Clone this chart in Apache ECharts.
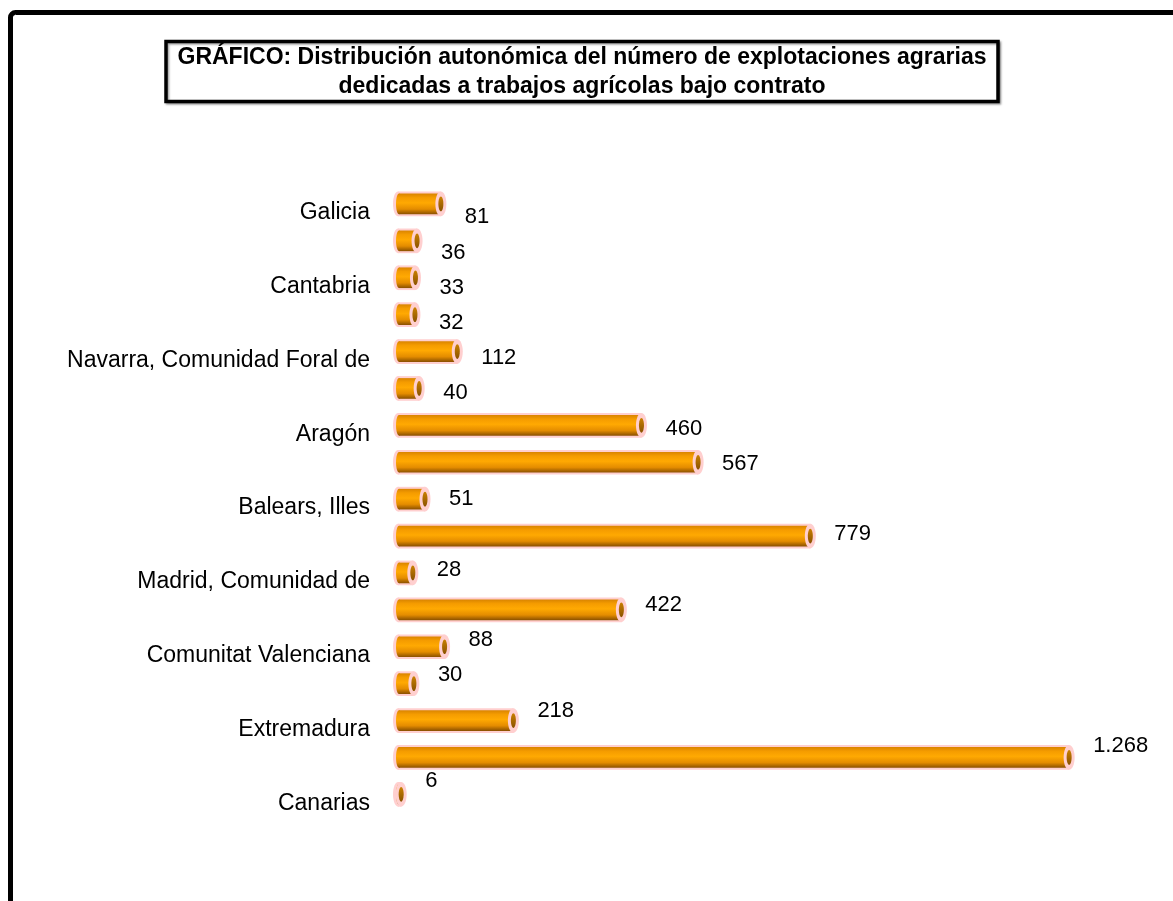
<!DOCTYPE html>
<html>
<head>
<meta charset="utf-8">
<title>Explotaciones agrarias bajo contrato</title>
<script src="https://cdn.jsdelivr.net/npm/echarts@6/dist/echarts.min.js"></script>
<style>
  * { margin: 0; padding: 0; }
  body { background: #fff; }
  #chart { width: 1173px; height: 901px; }
</style>
</head>
<body>
<div id="chart"></div>
<script>
// comunidades autónomas, en el orden del gráfico (de arriba a abajo)
var comunidades = [
  'Galicia', 'Asturias, Principado de', 'Cantabria', 'País Vasco',
  'Navarra, Comunidad Foral de', 'Rioja, La', 'Aragón', 'Cataluña',
  'Balears, Illes', 'Castilla y León', 'Madrid, Comunidad de', 'Castilla-La Mancha',
  'Comunitat Valenciana', 'Murcia, Región de', 'Extremadura', 'Andalucía', 'Canarias'
];
// número de explotaciones
var explotaciones = [81, 36, 33, 32, 112, 40, 460, 567, 51, 779, 28, 422, 88, 30, 218, 1268, 6];

var titulo = 'GRÁFICO: Distribución autonómica del número de explotaciones agrarias\ndedicadas a trabajos agrícolas bajo contrato';
var fuente = '"Liberation Sans", Arial, sans-serif';

// 1268 -> "1.268"
function miles(v) {
  return String(v).replace(/\B(?=(\d{3})+(?!\d))/g, '.');
}

var cuerpo = {
  type: 'linear', x: 0, y: 0, x2: 0, y2: 1,
  colorStops: [
    { offset: 0, color: '#d98400' },
    { offset: 0.2, color: '#f59c00' },
    { offset: 0.45, color: '#ffa902' },
    { offset: 0.75, color: '#e48c00' },
    { offset: 1, color: '#8a5000' }
  ]
};
var tapa = {
  type: 'linear', x: 0, y: 0, x2: 0, y2: 1,
  colorStops: [
    { offset: 0, color: '#c98000' },
    { offset: 1, color: '#8a5200' }
  ]
};
var rosa = '#ffcfcf';

function cilindro(params, api) {
  var v = api.value(0);
  var c = api.value(1);
  var ini = api.coord([0, c]);
  var fin = api.coord([v, c]);
  var h = api.size([0, 1])[1] * 0.56;
  var x0 = ini[0], x1 = fin[0], yc = fin[1];
  var mid = params.coordSys.y + params.coordSys.height / 2;
  return {
    type: 'group',
    children: [
      { type: 'ellipse', shape: { cx: x0, cy: yc, rx: 5, ry: h / 2 + 2 }, style: { fill: rosa } },
      { type: 'rect', shape: { x: x0, y: yc - h / 2 - 2, width: x1 - x0, height: h + 4 }, style: { fill: rosa } },
      { type: 'ellipse', shape: { cx: x0 + 1, cy: yc, rx: 3, ry: h / 2 }, style: { fill: cuerpo } },
      { type: 'rect', shape: { x: x0 + 1, y: yc - h / 2, width: Math.max(0, x1 - x0 - 1), height: h }, style: { fill: cuerpo } },
      { type: 'ellipse', shape: { cx: x1, cy: yc, rx: 5.5, ry: h / 2 + 2 }, style: { fill: rosa } },
      { type: 'ellipse', shape: { cx: x1, cy: yc, rx: 2.5, ry: h / 2 - 3 }, style: { fill: tapa } },
      {
        type: 'text',
        style: {
          text: miles(v), x: x1 + 24, y: yc + (mid - yc) * 0.045,
          verticalAlign: 'middle', fill: '#000', font: '22px ' + fuente
        }
      }
    ]
  };
}

var chart = echarts.init(document.getElementById('chart'));
chart.setOption({
  animation: false,
  backgroundColor: '#fff',
  grid: { left: 398, right: 34, top: 185.5, height: 627.3 },
  xAxis: { type: 'value', min: 0, max: 1400, show: false },
  yAxis: {
    type: 'category',
    data: comunidades,
    inverse: true,
    axisLine: { show: false },
    axisTick: { show: false },
    axisLabel: {
      interval: 1,
      margin: 28,
      color: '#000',
      fontSize: 23,
      fontFamily: fuente,
      verticalAlign: 'top',
      lineHeight: 18
    }
  },
  graphic: [
    {
      type: 'rect', z: -10,
      shape: { x: 10.5, y: 12.5, width: 1300, height: 1000, r: 5 },
      style: { fill: 'none', stroke: '#000', lineWidth: 5 }
    },
    {
      type: 'rect', z: 10,
      shape: { x: 166, y: 41.5, width: 832, height: 60 },
      style: { fill: '#fff', stroke: '#000', lineWidth: 3.5, shadowColor: 'rgba(0,0,0,0.35)', shadowOffsetX: 1.5, shadowOffsetY: 1.5, shadowBlur: 2 }
    },
    {
      type: 'text', z: 11,
      style: {
        text: titulo, x: 582, y: 72.5, align: 'center', verticalAlign: 'middle',
        fill: '#000', font: 'bold 23px ' + fuente, lineHeight: 29
      }
    }
  ],
  series: [{
    type: 'custom',
    renderItem: cilindro,
    encode: { x: 0, y: 1 },
    data: explotaciones.map(function (v, i) { return [v, i]; })
  }]
});
</script>
</body>
</html>
